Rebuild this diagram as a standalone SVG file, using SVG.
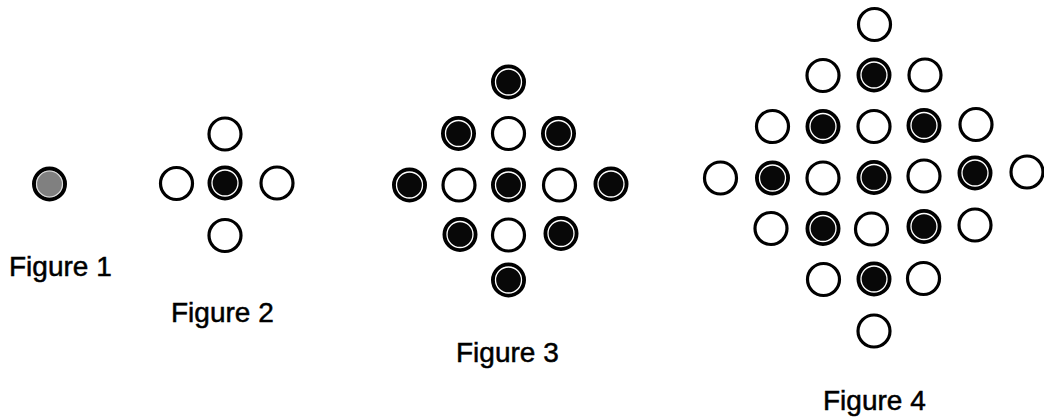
<svg xmlns="http://www.w3.org/2000/svg" xmlns:xlink="http://www.w3.org/1999/xlink" width="1044" height="418" viewBox="0 0 1044 418">
<style>
.o{fill:#fff;stroke:#000;stroke-width:3.2}
.fo{fill:#080808;stroke:#000;stroke-width:4}
.fi{fill:none;stroke:#fff;stroke-width:1.3}
.lbl{font-family:"Liberation Sans",Arial,sans-serif;font-size:28px;fill:#000;stroke:#000;stroke-width:0.5}
</style>
<defs>
<g id="open"><circle class="o" r="16"/></g>
<g id="filled"><circle class="fo" r="15.5"/><circle class="fi" r="13"/></g>
<g id="grey"><circle r="15.5" fill="#808080" stroke="#000" stroke-width="4"/><circle r="13" fill="none" stroke="#ddd" stroke-width="1.2"/></g>
</defs>
<rect width="1044" height="418" fill="#fff"/>
<g id="connectors"></g>

<g id="figure1">
<g id="f1-n1"><use xlink:href="#grey" x="49.5" y="184"/></g>
<text class="lbl" x="9" y="276">Figure 1</text>
</g>

<g id="figure2">
<g id="f2-n1"><use xlink:href="#open" x="225" y="134"/></g>
<g id="f2-n2"><use xlink:href="#open" x="176.5" y="183.5"/></g>
<g id="f2-n3"><use xlink:href="#filled" x="225" y="183"/></g>
<g id="f2-n4"><use xlink:href="#open" x="277" y="183"/></g>
<g id="f2-n5"><use xlink:href="#open" x="225" y="235.5"/></g>
<text class="lbl" x="171" y="322">Figure 2</text>
</g>

<g id="figure3">
<g id="f3-n1"><use xlink:href="#filled" x="508.5" y="82"/></g>
<g id="f3-n2"><use xlink:href="#filled" x="458.5" y="133.5"/></g>
<g id="f3-n3"><use xlink:href="#open" x="508.5" y="133.5"/></g>
<g id="f3-n4"><use xlink:href="#filled" x="558.5" y="133.5"/></g>
<g id="f3-n5"><use xlink:href="#filled" x="409.5" y="185"/></g>
<g id="f3-n6"><use xlink:href="#open" x="459" y="185"/></g>
<g id="f3-n7"><use xlink:href="#filled" x="508.5" y="185"/></g>
<g id="f3-n8"><use xlink:href="#open" x="559.5" y="185"/></g>
<g id="f3-n9"><use xlink:href="#filled" x="611" y="184"/></g>
<g id="f3-n10"><use xlink:href="#filled" x="460" y="234.5"/></g>
<g id="f3-n11"><use xlink:href="#open" x="508.5" y="235"/></g>
<g id="f3-n12"><use xlink:href="#filled" x="561" y="233.5"/></g>
<g id="f3-n13"><use xlink:href="#filled" x="508.5" y="280"/></g>
<text class="lbl" x="456" y="362">Figure 3</text>
</g>

<g id="figure4">
<g id="f4-n1"><use xlink:href="#open" x="874.5" y="24.5"/></g>
<g id="f4-n2"><use xlink:href="#open" x="823" y="75.5"/></g>
<g id="f4-n3"><use xlink:href="#filled" x="874" y="75"/></g>
<g id="f4-n4"><use xlink:href="#open" x="925" y="75"/></g>
<g id="f4-n5"><use xlink:href="#open" x="772.5" y="126.5"/></g>
<g id="f4-n6"><use xlink:href="#filled" x="823" y="126.5"/></g>
<g id="f4-n7"><use xlink:href="#open" x="874" y="126.5"/></g>
<g id="f4-n8"><use xlink:href="#filled" x="924" y="125.5"/></g>
<g id="f4-n9"><use xlink:href="#open" x="976" y="124.5"/></g>
<g id="f4-n10"><use xlink:href="#open" x="720.5" y="178"/></g>
<g id="f4-n11"><use xlink:href="#filled" x="772.5" y="178"/></g>
<g id="f4-n12"><use xlink:href="#open" x="823" y="178"/></g>
<g id="f4-n13"><use xlink:href="#filled" x="874" y="177.5"/></g>
<g id="f4-n14"><use xlink:href="#open" x="924" y="176"/></g>
<g id="f4-n15"><use xlink:href="#filled" x="975" y="173"/></g>
<g id="f4-n16"><use xlink:href="#open" x="1027" y="172"/></g>
<g id="f4-n17"><use xlink:href="#open" x="771" y="228.5"/></g>
<g id="f4-n18"><use xlink:href="#filled" x="823" y="228.5"/></g>
<g id="f4-n19"><use xlink:href="#open" x="871.5" y="229"/></g>
<g id="f4-n20"><use xlink:href="#filled" x="924" y="226.5"/></g>
<g id="f4-n21"><use xlink:href="#open" x="975" y="225"/></g>
<g id="f4-n22"><use xlink:href="#open" x="823.5" y="279.5"/></g>
<g id="f4-n23"><use xlink:href="#filled" x="874" y="279"/></g>
<g id="f4-n24"><use xlink:href="#open" x="923.5" y="278.5"/></g>
<g id="f4-n25"><use xlink:href="#open" x="874" y="331"/></g>
<text class="lbl" x="823" y="410">Figure 4</text>
</g>
</svg>
